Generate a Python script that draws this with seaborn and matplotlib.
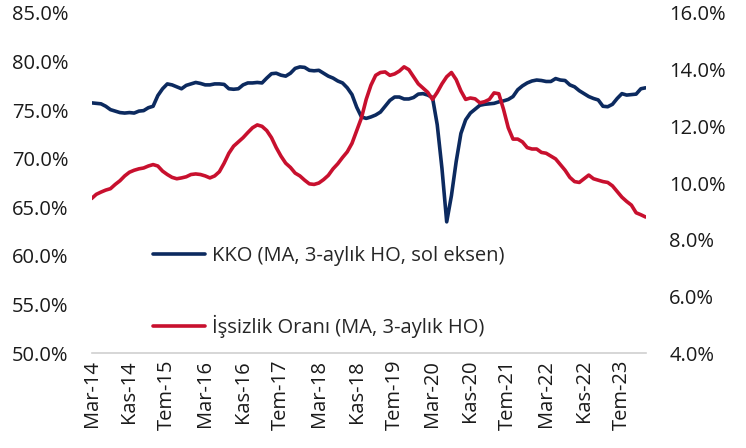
import pandas as pd
import matplotlib
matplotlib.use('Agg')
import matplotlib.pyplot as plt
import matplotlib.ticker as mtick
import seaborn as sns

# aylar: Mar-14 ... Ara-23
aylar = pd.date_range('2014-03-01', periods=118, freq='MS')
ay_adlari = ['Oca', 'Şub', 'Mar', 'Nis', 'May', 'Haz', 'Tem', 'Ağu', 'Eyl', 'Eki', 'Kas', 'Ara']

kko = [75.75, 75.7, 75.65, 75.4, 75.05, 74.9, 74.75, 74.7, 74.75, 74.7,
       74.9, 74.95, 75.25, 75.4, 76.5, 77.2, 77.7, 77.6, 77.4, 77.2,
       77.55, 77.7, 77.85, 77.75, 77.6, 77.6, 77.7, 77.7, 77.65, 77.2,
       77.15, 77.2, 77.6, 77.8, 77.8, 77.85, 77.8, 78.3, 78.75, 78.8,
       78.6, 78.5, 78.8, 79.3, 79.45, 79.4, 79.1, 79.05, 79.1, 78.8,
       78.5, 78.3, 78.0, 77.8, 77.3, 76.6, 75.3, 74.3, 74.15, 74.3,
       74.5, 74.8, 75.4, 76.0, 76.35, 76.35, 76.15, 76.15, 76.3, 76.65,
       76.7, 76.55, 76.3, 73.5, 69.0, 63.5, 66.2, 69.7, 72.6, 74.0,
       74.7, 75.1, 75.5, 75.6, 75.65, 75.7, 75.85, 75.95, 76.1, 76.4,
       77.1, 77.5, 77.8, 78.0, 78.1, 78.05, 77.95, 77.95, 78.25, 78.1,
       78.05, 77.6, 77.4, 77.0, 76.7, 76.4, 76.2, 76.05, 75.4, 75.35,
       75.6, 76.2, 76.7, 76.55, 76.6, 76.65, 77.2, 77.3]

issizlik = [9.45, 9.6, 9.68, 9.75, 9.8, 9.95, 10.08, 10.25, 10.38, 10.45,
            10.5, 10.53, 10.6, 10.65, 10.6, 10.42, 10.3, 10.2, 10.15, 10.18,
            10.22, 10.3, 10.32, 10.3, 10.25, 10.18, 10.25, 10.4, 10.7, 11.05,
            11.3, 11.45, 11.6, 11.78, 11.95, 12.05, 12.0, 11.85, 11.6, 11.25,
            10.95, 10.7, 10.55, 10.35, 10.25, 10.1, 9.97, 9.95, 10.0, 10.12,
            10.27, 10.5, 10.68, 10.9, 11.1, 11.4, 11.85, 12.3, 12.95, 13.45,
            13.8, 13.9, 13.92, 13.8, 13.85, 13.95, 14.1, 14.0, 13.75, 13.5,
            13.35, 13.2, 12.95, 13.2, 13.5, 13.75, 13.9, 13.65, 13.25, 12.95,
            13.0, 12.97, 12.83, 12.87, 12.95, 13.18, 13.15, 12.6, 11.95, 11.55,
            11.55, 11.45, 11.25, 11.2, 11.2, 11.08, 11.05, 10.95, 10.85, 10.65,
            10.45, 10.2, 10.05, 10.02, 10.15, 10.28, 10.15, 10.1, 10.05, 10.02,
            9.9, 9.7, 9.5, 9.35, 9.22, 8.95, 8.88, 8.8]

df = pd.DataFrame({'ay': aylar, 'kko': kko, 'issizlik': issizlik})
df['i'] = range(len(df))
etiketler = [ay_adlari[d.month - 1] + '-' + d.strftime('%y') for d in aylar]

sns.set_style('white')
plt.rcParams['font.family'] = ['Open Sans', 'DejaVu Sans']

lacivert = '#0c2a5f'
kirmizi = '#c8102e'
yazi = '#1a1a1a'
fs = 14.5

fig, ax1 = plt.subplots(figsize=(7.46, 4.48), dpi=100)
fig.subplots_adjust(left=0.1227, right=0.8654, top=0.971, bottom=0.212)

sns.lineplot(data=df, x='i', y='kko', ax=ax1, color=lacivert, linewidth=2.6,
             label='KKO (MA, 3-aylık HO, sol eksen)', legend=False)
ax2 = ax1.twinx()
sns.lineplot(data=df, x='i', y='issizlik', ax=ax2, color=kirmizi, linewidth=2.6,
             label='İşsizlik Oranı (MA, 3-aylık HO)', legend=False)

ax1.set_xlim(0, len(df) - 1)
ax1.set_ylim(50, 85)
ax2.set_ylim(4, 16)
ax1.set_yticks([50, 55, 60, 65, 70, 75, 80, 85])
ax2.set_yticks([4, 6, 8, 10, 12, 14, 16])
ax1.yaxis.set_major_formatter(mtick.FormatStrFormatter('%.1f%%'))
ax2.yaxis.set_major_formatter(mtick.FormatStrFormatter('%.1f%%'))

tick_idx = list(range(0, len(df), 8))
ax1.set_xticks(tick_idx)
ax1.set_xticklabels([etiketler[k] for k in tick_idx], rotation=90)
ax1.set_xlabel('')
ax1.set_ylabel('')
ax2.set_ylabel('')

for ax in (ax1, ax2):
    for s in ['top', 'left', 'right', 'bottom']:
        ax.spines[s].set_visible(False)
ax1.spines['bottom'].set_visible(True)
ax1.spines['bottom'].set_color('#d0d0d0')
ax1.spines['bottom'].set_linewidth(1.2)

ax1.tick_params(axis='x', length=4, width=1, color='#d0d0d0', labelsize=fs,
                labelcolor=yazi, pad=1)
ax1.tick_params(axis='y', length=0, labelsize=fs, labelcolor=yazi, pad=16.5)
ax2.tick_params(axis='y', length=0, labelsize=fs, labelcolor=yazi, pad=17)

h1, l1 = ax1.get_legend_handles_labels()
h2, l2 = ax2.get_legend_handles_labels()
ax2.legend(h1 + h2, l1 + l2, loc='center left', bbox_to_anchor=(0.111, 0.18),
           frameon=False, fontsize=fs, labelspacing=2.4, handlelength=2.6,
           handletextpad=0.35, borderpad=0, borderaxespad=0)

fig.savefig('out.png', dpi=100)
